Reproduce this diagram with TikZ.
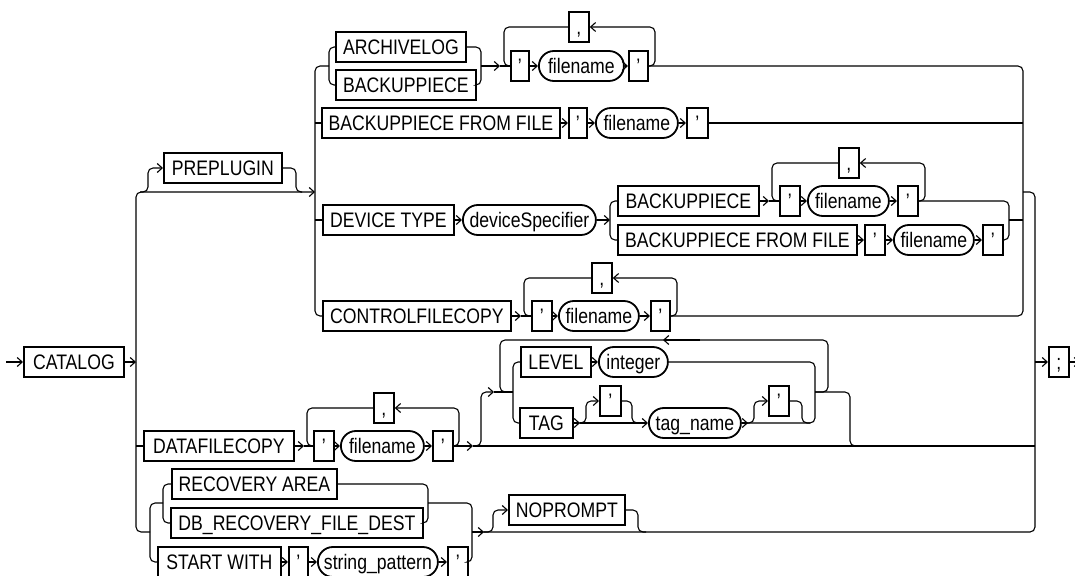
\documentclass[tikz,border=0pt]{standalone}
\usepackage{fontspec}
\setmainfont[FakeStretch=0.84]{Liberation Sans}
\usetikzlibrary{arrows.meta}
\begin{document}
\begin{tikzpicture}[x=1pt,y=-1pt,
  kw/.style={draw, line width=1.8pt, minimum height=30pt, inner sep=0pt, anchor=west,
    text height=15pt, text depth=0pt, font=\fontsize{21}{23}\selectfont},
  pill/.style={kw, rounded corners=15pt},
  ln/.style={line width=1.1pt, rounded corners=5pt},
  ar/.style={ln, -{Straight Barb[length=5pt,width=9pt]}}]
\fill[white] (0,0) rectangle (1075,575);
\useasboundingbox (0,0) rectangle (1075,575);

% ---------- nodes ----------
\coordinate (start) at (6,362);
\node[kw, minimum width=100pt] (catalog) at (23,362) {CATALOG};
\node[kw, minimum width=118pt] (prep) at (163,168) {PREPLUGIN};
\node[kw, minimum width=130pt] (arch) at (335,47) {ARCHIVELOG};
\node[kw, minimum width=140pt] (bp1) at (335,85) {BACKUPPIECE};
\node[kw, minimum width=18pt] (q1a) at (510,66) {’};
\node[pill, minimum width=85pt] (f1) at (538,66) {filename};
\node[kw, minimum width=19pt] (q1b) at (628,66) {’};
\node[kw, minimum width=20pt] (c1) at (568,27) {,};

\node[kw, minimum width=238pt] (bff) at (321,123) {BACKUPPIECE FROM FILE};
\node[kw, minimum width=18pt] (q2a) at (568,123) {’};
\node[pill, minimum width=82pt] (f2) at (595,123) {filename};
\node[kw, minimum width=21pt] (q2b) at (686,123) {’};

\node[kw, minimum width=131pt] (dev) at (322,220) {DEVICE TYPE};
\node[pill, minimum width=133pt] (ds) at (462,220) {deviceSpecifier};
\node[kw, minimum width=141pt] (bp2) at (617,201) {BACKUPPIECE};
\node[kw, minimum width=20pt] (q3a) at (779,201) {’};
\node[pill, minimum width=81pt] (f3) at (807,201) {filename};
\node[kw, minimum width=20pt] (q3b) at (897,201) {’};
\node[kw, minimum width=20pt] (c3) at (838,163) {,};
\node[kw, minimum width=239pt] (bff2) at (617,240) {BACKUPPIECE FROM FILE};
\node[kw, minimum width=20pt] (q5a) at (864,240) {’};
\node[pill, minimum width=80pt] (f5) at (893,240) {filename};
\node[kw, minimum width=20pt] (q5b) at (982,240) {’};

\node[kw, minimum width=188pt] (cfc) at (322,316) {CONTROLFILECOPY};
\node[kw, minimum width=20pt] (q4a) at (531,316) {’};
\node[pill, minimum width=80pt] (f4) at (558,316) {filename};
\node[kw, minimum width=19pt] (q4b) at (650,316) {’};
\node[kw, minimum width=20pt] (c4) at (591,278) {,};

\node[kw, minimum width=20pt] (semi) at (1048,362) {;};

\node[kw, minimum width=150pt] (dfc) at (143,446) {DATAFILECOPY};
\node[kw, minimum width=20pt] (q6a) at (313,446) {’};
\node[pill, minimum width=83pt] (f6) at (340,446) {filename};
\node[kw, minimum width=20pt] (q6b) at (432,446) {’};
\node[kw, minimum width=20pt] (c6) at (373,408) {,};

\node[kw, minimum width=70pt] (lev) at (520,362) {LEVEL};
\node[pill, minimum width=69pt] (int) at (598,362) {integer};
\node[kw, minimum width=53pt] (tag) at (519,423) {TAG};
\node[kw, minimum width=21pt] (tq1) at (599,401) {’};
\node[pill, minimum width=92pt] (tn) at (648,423) {tag\_name};
\node[kw, minimum width=20pt] (tq2) at (768,401) {’};

\node[kw, minimum width=165pt] (ra) at (171,484) {RECOVERY AREA};
\node[kw, minimum width=252pt] (db) at (170,523) {DB\_RECOVERY\_FILE\_DEST};
\node[kw, minimum width=123pt] (sw) at (157,562) {START WITH};
\node[kw, minimum width=19pt] (q7a) at (288,562) {’};
\node[pill, minimum width=120pt] (sp) at (317,562) {string\_pattern};
\node[kw, minimum width=20pt] (q7b) at (447,562) {’};
\node[kw, minimum width=116pt] (np) at (508,510) {NOPROMPT};

% ---------- main line ----------
\draw[ar] (start) -- (catalog.west);
\draw[ar] (catalog.east) -- (136,362);
\draw[ar] (136,362) |- (315,192);
\draw[ln] (136,362) |- (150,532);
\draw[ln] (136,446) -- (dfc.west);
\draw[ln] (1023,192) -| (1035,532) -- (483,532);
\draw[ar] (1035,362) -- (semi.west);
\draw[ar] (semi.east) -- (1080,362);

% ---------- PREPLUGIN ----------
\draw[ar] (140,192) -| (148,168) -- (prep.west);
\draw[ln] (prep.east) -| (296,192) -- (302,192);

% ---------- sub group rails ----------
\draw[ln] (329,66) -- (315,66) -- (315,316) -- (cfc.west);
\draw[ln] (315,123) -- (bff.west);
\draw[ln] (315,220) -- (dev.west);
\draw[ln] (q1b.east) -| (1023,316) -- (q4b.east);

% ARCHIVELOG / BACKUPPIECE
\draw[ln] (arch.west) -| (329,85) -- (bp1.west);
\draw[ln] (arch.east) -| (481,85) -- (bp1.east);
\draw[ar] (481,66) -- (500,66);
\draw[ln] (500,66) -- (q1a.west);
\draw[ar] (q1a.east) -- (f1.west);
\draw[ar] (f1.east) -- (q1b.west);
\draw[ar] (q1b.east) -| (655,27) -- (c1.east);
\draw[ln] (c1.west) -| (504,66) -- (q1a.west);

% BACKUPPIECE FROM FILE
\draw[ar] (bff.east) -- (q2a.west);
\draw[ar] (q2a.east) -- (f2.west);
\draw[ar] (f2.east) -- (q2b.west);
\draw[ln] (q2b.east) -- (1023,123);

% DEVICE TYPE
\draw[ar] (dev.east) -- (ds.west);
\draw[ar] (ds.east) -- (610,220);
\draw[ln] (bp2.west) -| (610,240) -- (bff2.west);
\draw[ar] (bp2.east) -- (769,201);
\draw[ln] (769,201) -- (q3a.west);
\draw[ar] (q3a.east) -- (f3.west);
\draw[ar] (f3.east) -- (q3b.west);
\draw[ar] (q3b.east) -| (925,163) -- (c3.east);
\draw[ln] (c3.west) -| (772,201) -- (q3a.west);
\draw[ln] (q3b.east) -| (1009,240) -- (q5b.east);
\draw[ln] (1009,220) -- (1023,220);
\draw[ar] (bff2.east) -- (q5a.west);
\draw[ar] (q5a.east) -- (f5.west);
\draw[ar] (f5.east) -- (q5b.west);

% CONTROLFILECOPY
\draw[ar] (cfc.east) -- (521,316);
\draw[ln] (521,316) -- (q4a.west);
\draw[ar] (q4a.east) -- (f4.west);
\draw[ar] (f4.east) -- (q4b.west);
\draw[ar] (q4b.east) -| (677,278) -- (c4.east);
\draw[ln] (c4.west) -| (524,316) -- (q4a.west);

% ---------- DATAFILECOPY ----------
\draw[ar] (dfc.east) -- (304,446);
\draw[ln] (304,446) -- (q6a.west);
\draw[ar] (q6a.east) -- (f6.west);
\draw[ar] (f6.east) -- (q6b.west);
\draw[ar] (q6b.east) -| (459,408) -- (c6.east);
\draw[ln] (c6.west) -| (307,446) -- (q6a.west);
\draw[ar] (q6b.east) -- (473,446);
\draw[ln] (473,446) -- (1035,446);

% LEVEL / TAG loop
\draw[ar] (474,446) -| (481,392) -- (494,392);
\draw[ln] (494,392) -- (513,392);
\draw[ln] (lev.west) -| (513,423) -- (tag.west);
\draw[ln] (815,392) -| (828,340) -- (500,340) -- (500,392) -- (508,392);
\draw[ar] (700,340) -- (663,340);
\draw[ar] (lev.east) -- (int.west);
\draw[ln] (int.east) -| (815,423) -- (745,423);
\draw[ln] (815,392) -| (850,446) -- (860,446);
\draw[ar] (tag.east) -- (580,423);
\draw[ar] (580,423) -- (tn.west);
\draw[ar] (579,423) -| (586,401) -- (tq1.west);
\draw[ln] (tq1.east) -| (632,423) -- (640,423);
\draw[ar] (tn.east) -- (748,423);
\draw[ar] (746,423) -| (754,401) -- (tq2.west);
\draw[ln] (tq2.east) -| (802,423) -- (810,423);

% ---------- RECOVERY AREA group ----------
\draw[ln] (163,503) -| (150,562) -- (sw.west);
\draw[ln] (ra.west) -| (163,523) -- (db.west);
\draw[ln] (ra.east) -| (428,523) -- (db.east);
\draw[ln] (428,503) -| (472,562) -- (q7b.east);
\draw[ar] (sw.east) -- (q7a.west);
\draw[ar] (q7a.east) -- (sp.west);
\draw[ar] (sp.east) -- (q7b.west);
\draw[ar] (472,532) -- (484,532);
\draw[ar] (484,532) -| (493,510) -- (np.west);
\draw[ln] (np.east) -| (638,532) -- (646,532);
\end{tikzpicture}
\end{document}
